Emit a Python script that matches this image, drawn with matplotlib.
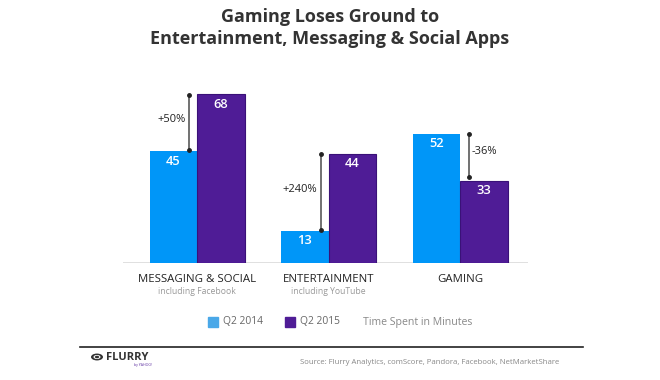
import matplotlib
matplotlib.use("Agg")
import matplotlib.pyplot as plt
from matplotlib.patches import Circle

categories = ["MESSAGING & SOCIAL", "ENTERTAINMENT", "GAMING"]
sublabels = ["including Facebook", "including YouTube", ""]
q2_2014 = [45, 13, 52]
q2_2015 = [68, 44, 33]
changes = ["+50%", "+240%", "-36%"]
series_names = ["Q2 2014", "Q2 2015"]

BLUE = "#0096F8"
PURPLE = "#4F1C96"
W, H = 660, 380

plt.rcParams['font.family'] = ['Open Sans', 'DejaVu Sans']
fig = plt.figure(figsize=(6.6, 3.8), dpi=100)
fig.patch.set_facecolor("white")

def fx(px):
    return px / W

def fy(py):
    return 1 - py / H

# axes: x from 123 to 528 px, baseline y=263, top at y=80
ax_left, ax_right, base, top = 123, 528, 263, 80
ax = fig.add_axes([fx(ax_left), fy(base), (ax_right - ax_left) / W, (base - top) / H])
px_per_unit = 2.485
ax.set_ylim(0, (base - top) / px_per_unit)
spacing = 131.5
ax.set_xlim(-(197 - ax_left) / spacing, 2 + (ax_right - 460) / spacing)
ax.axis("off")

bw = 47.5 / spacing
x = list(range(len(categories)))
ax.bar([i - bw / 2 for i in x], q2_2014, width=bw, color=BLUE, zorder=2)
ax.bar([i + bw / 2 for i in x], q2_2015, width=bw, color=PURPLE,
       edgecolor="#3A1178", linewidth=0.8, zorder=2)
ax.axhline(0, color="#dddddd", linewidth=2, zorder=1)

off = 10 / px_per_unit
for i in x:
    ax.text(i - bw / 2, q2_2014[i] - off, str(q2_2014[i]), ha="center", va="center",
            color="white", fontsize=9.3, fontweight="semibold")
    ax.text(i + bw / 2, q2_2015[i] - off, str(q2_2015[i]), ha="center", va="center",
            color="white", fontsize=9.3, fontweight="semibold")

# change brackets
for i in x:
    a, b = q2_2014[i], q2_2015[i]
    if b > a:
        bx = i - 8 / spacing
        y0, y1 = a + 1 / px_per_unit, b - 0.3
        ax.plot([bx, bx], [y0, y1], color="#666666", linewidth=1.3, zorder=3)
        ax.plot([bx, bx], [y0, y1], 'o', color="#222222", markersize=2.5, zorder=4)
        ax.text(bx - 3 / spacing, (y0 + y1) / 2 + 1, changes[i], ha="right", va="center",
                fontsize=8, color="#222222")
    else:
        bx = i + 9 / spacing
        y0, y1 = b + 4 / px_per_unit, a
        ax.plot([bx, bx], [y0, y1], color="#666666", linewidth=1.3, zorder=3)
        ax.plot([bx, bx], [y0, y1], 'o', color="#222222", markersize=2.5, zorder=4)
        ax.text(bx + 3 / spacing, (y0 + y1) / 2 + 1.5, changes[i], ha="left", va="center",
                fontsize=8, color="#222222")

# category labels
for i in x:
    cx = 197 + i * spacing
    fig.text(fx(cx), fy(279), categories[i], ha="center", va="center",
             fontsize=8.2, color="#222222")
    if sublabels[i]:
        fig.text(fx(cx), fy(292), sublabels[i], ha="center", va="center",
                 fontsize=6.2, color="#999999")

# title
fig.text(0.5, fy(17), "Gaming Loses Ground to", ha="center", va="center",
         fontsize=13, fontweight="bold", color="#333333")
fig.text(0.5, fy(39), "Entertainment, Messaging & Social Apps", ha="center", va="center",
         fontsize=13, fontweight="bold", color="#333333")

# legend
sq = 10
for (lx, col, name) in [(208, "#4AA8E8", series_names[0]), (285, PURPLE, series_names[1])]:
    fig.patches.append(plt.Rectangle((fx(lx), fy(322 + sq / 2)), sq / W, sq / H,
                                     transform=fig.transFigure, color=col, figure=fig))
    fig.text(fx(lx + 15), fy(322), name, ha="left", va="center", fontsize=7.4, color="#666666")
fig.text(fx(363), fy(322), "Time Spent in Minutes", ha="left", va="center",
         fontsize=7.6, color="#888888")

# footer
fig.add_artist(plt.Line2D([fx(80), fx(583)], [fy(347), fy(347)], color="#222222",
                          linewidth=1.2, transform=fig.transFigure))
fig.add_artist(Circle((fx(97), fy(357)), 6 / W, transform=fig.transFigure,
                      facecolor="#333333", edgecolor="none"))
fig.add_artist(Circle((fx(97), fy(357)), 3.5 / W, transform=fig.transFigure,
                      facecolor="white", edgecolor="none"))
fig.add_artist(Circle((fx(97), fy(357)), 2.2 / W, transform=fig.transFigure,
                      facecolor="#333333", edgecolor="none"))
fig.text(fx(106), fy(357), "FLURRY", ha="left", va="center", fontsize=8,
         fontweight="bold", color="#333333")
fig.text(fx(152), fy(365), "by YAHOO!", ha="right", va="center", fontsize=2.5,
         color="#5b2da0")
fig.text(fx(559), fy(363), "Source: Flurry Analytics, comScore, Pandora, Facebook, NetMarketShare",
         ha="right", va="center", fontsize=5.55, color="#888888")

fig.savefig("out.png", dpi=100)
